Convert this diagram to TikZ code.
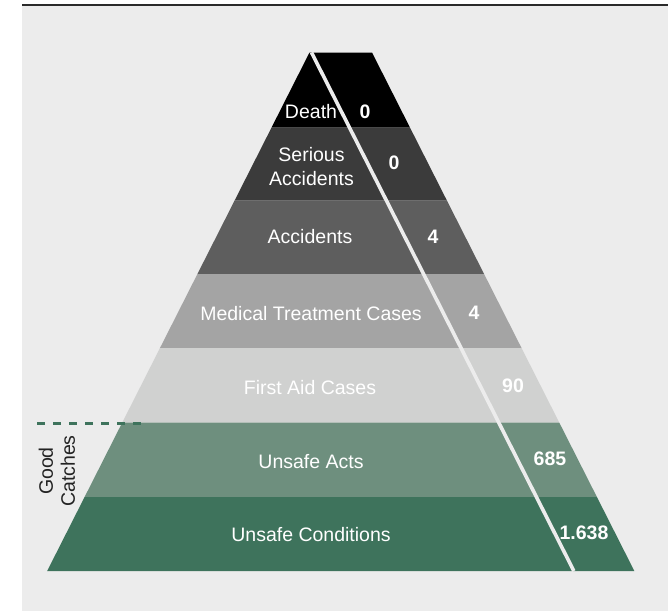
\documentclass[tikz,border=0pt]{standalone}
\usepackage{fontspec}
\setmainfont{Liberation Sans}
\definecolor{bgc}{HTML}{ECECEC}
\definecolor{cDeath}{HTML}{000000}
\definecolor{cSerious}{HTML}{3B3B3B}
\definecolor{cAcc}{HTML}{5E5E5E}
\definecolor{cMed}{HTML}{A4A4A4}
\definecolor{cFirst}{HTML}{D0D1D0}
\definecolor{cActs}{HTML}{6E8F7E}
\definecolor{cCond}{HTML}{3E735C}
\definecolor{topline}{HTML}{2A2A2A}
\definecolor{gtext}{HTML}{222222}
\begin{document}
\begin{tikzpicture}[x=1pt,y=-1pt,
  lbl/.style={text=white,font=\fontsize{19.5}{24}\selectfont,align=center,inner sep=0pt},
  num/.style={text=white,font=\fontsize{19.5}{24}\selectfont\bfseries,inner sep=0pt},
  band/.style={draw=none}]
\useasboundingbox (0,0) rectangle (668,611);
\fill[bgc] (22,6) rectangle (668,611);
\draw[topline,line width=2.2pt] (22,5) -- (668,5);
% bands
\fill[cDeath]   (309.5,52.5) -- (372,52.5) -- (409.95,127.5) -- (271.55,127.5) -- cycle;
\fill[cSerious] (271.55,127.5) -- (409.95,127.5) -- (446.89,200.5) -- (234.61,200.5) -- cycle;
\fill[cAcc]     (234.61,200.5) -- (446.89,200.5) -- (484.08,274) -- (197.42,274) -- cycle;
\fill[cMed]     (197.42,274) -- (484.08,274) -- (521.52,348) -- (159.98,348) -- cycle;
\fill[cFirst]   (159.98,348) -- (521.52,348) -- (559.22,422.5) -- (122.28,422.5) -- cycle;
\fill[cActs]    (122.28,422.5) -- (559.22,422.5) -- (596.92,497) -- (84.58,497) -- cycle;
\fill[cCond]    (84.58,497) -- (596.92,497) -- (634.36,571) -- (47.14,571) -- cycle;
% dividing line
\coordinate (dtop) at (311.5,52.5);
\coordinate (dbot) at (573.86,571);
\draw[bgc,line width=3.6pt] (dtop) -- (dbot);
% dashed marker
\coordinate (gcA) at (37,423);
\coordinate (gcB) at (145,423);
\draw[cCond,line width=3pt,dash pattern=on 8pt off 8pt] (gcA) -- (gcB);
\node[text=gtext,font=\fontsize{19.5}{22}\selectfont,align=center,rotate=90,inner sep=0pt] (gc) at (57,471) {Good\\Catches};
% labels
\node[lbl] (l1) at (311,112) {Death};
\node[num] (n1) at (365,112) {0};
\node[lbl] (l2) at (311.5,167) {Serious\\Accidents};
\node[num] (n2) at (394,163) {0};
\node[lbl] (l3) at (310,237) {Accidents};
\node[num] (n3) at (433,237) {4};
\node[lbl] (l4) at (311,314) {Medical Treatment Cases};
\node[num] (n4) at (474,313) {4};
\node[lbl] (l5) at (310,388) {First Aid Cases};
\node[num] (n5) at (513,386) {90};
\node[lbl] (l6) at (311,462) {Unsafe Acts};
\node[num] (n6) at (550,459) {685};
\node[lbl] (l7) at (311,535) {Unsafe Conditions};
\node[num] (n7) at (584,533) {1.638};
\end{tikzpicture}
\end{document}
